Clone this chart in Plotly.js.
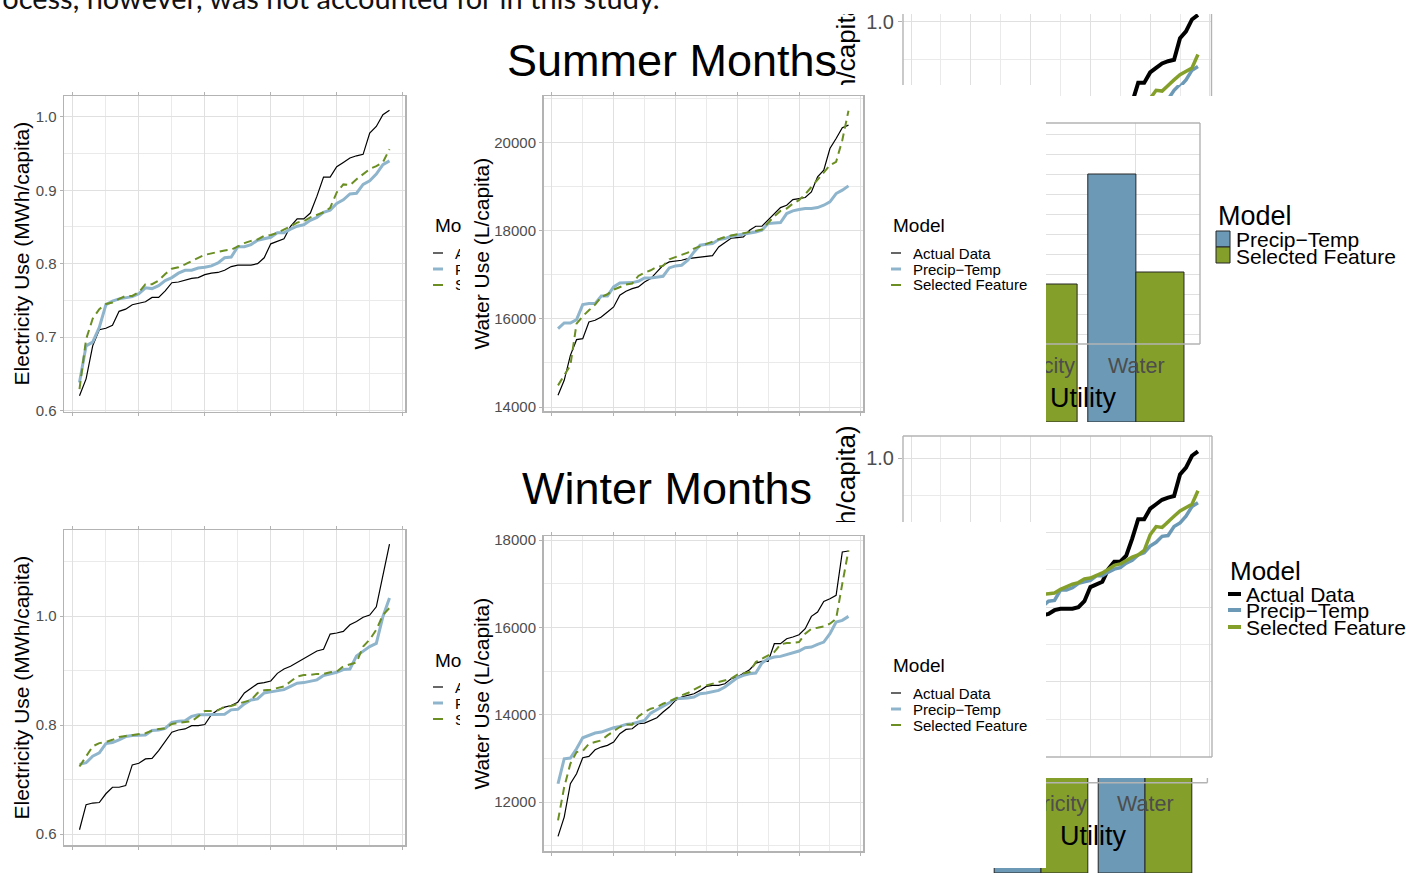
<!DOCTYPE html>
<html><head><meta charset="utf-8">
<script src="https://cdn.plot.ly/plotly-3.0.1.min.js"></script>
<style>html,body{margin:0;padding:0;background:#fff;}#chart{width:1406px;height:873px;}</style>
</head><body><div id="chart"></div>
<script>
const W = 1406, H = 873;
const FONT = 'Liberation Sans, Arial, sans-serif';

// ---------------- data ----------------
const modelNames = ['Actual Data', 'Precip\u2212Temp', 'Selected Feature'];
const legendTitle = 'Model';

const summerElecActual = [0.620,0.643,0.688,0.710,0.712,0.716,0.735,0.738,0.744,0.746,
 0.748,0.754,0.754,0.763,0.774,0.775,0.778,0.780,0.781,0.785,
 0.787,0.788,0.791,0.796,0.798,0.798,0.798,0.800,0.808,0.827,
 0.831,0.834,0.851,0.861,0.861,0.869,0.892,0.918,0.918,0.932,
 0.938,0.944,0.947,0.949,0.978,0.987,1.003,1.009];
const summerElecPrecip = [0.638,0.688,0.693,0.713,0.744,0.749,0.752,0.754,0.755,0.759,
 0.767,0.766,0.770,0.777,0.781,0.787,0.791,0.791,0.794,0.795,
 0.797,0.801,0.808,0.809,0.823,0.823,0.826,0.832,0.834,0.836,
 0.842,0.842,0.847,0.851,0.853,0.859,0.863,0.870,0.873,0.882,
 0.887,0.895,0.896,0.908,0.913,0.922,0.935,0.940];
const summerElecSelected = [0.629,0.697,0.725,0.738,0.745,0.747,0.752,0.756,0.756,0.761,
 0.772,0.772,0.777,0.786,0.793,0.795,0.799,0.804,0.808,0.812,
 0.814,0.817,0.818,0.819,0.824,0.828,0.831,0.833,0.838,0.839,
 0.842,0.846,0.851,0.856,0.858,0.863,0.867,0.870,0.876,0.897,
 0.908,0.907,0.915,0.922,0.929,0.933,0.938,0.956];

const summerWaterActual = [14265,14605,15172,15527,15550,15928,15966,16042,16155,16268,
 16533,16624,16684,16722,16835,16911,17062,17213,17289,17304,
 17327,17365,17380,17402,17418,17433,17629,17720,17826,17841,
 17856,18007,18098,18098,18234,18385,18521,18574,18702,18725,
 18748,18877,19217,19368,19860,20087,20329,20389];
const summerWaterPrecip = [15777,15905,15905,15981,16321,16344,16344,16518,16518,16722,
 16813,16813,16820,16850,16926,16926,16949,16964,17153,17198,
 17213,17327,17515,17667,17690,17705,17796,17818,17871,17894,
 17931,17947,17969,18007,18158,18173,18181,18385,18446,18476,
 18499,18499,18521,18574,18650,18839,18915,19013];
const summerWaterSelected = [14491,14718,14945,15890,16057,16193,16321,16495,16556,16662,
 16722,16775,16798,16971,17047,17100,17175,17198,17349,17402,
 17455,17500,17591,17644,17690,17742,17796,17856,17886,17916,
 17931,17969,17992,18022,18173,18325,18446,18499,18612,18688,
 18824,18990,19141,19330,19481,19557,20049,20715];

const winterElecActual = [0.608,0.654,0.657,0.658,0.674,0.686,0.686,0.689,0.727,0.730,
 0.738,0.739,0.753,0.770,0.787,0.791,0.793,0.799,0.799,0.801,
 0.819,0.828,0.833,0.836,0.842,0.859,0.868,0.876,0.878,0.881,
 0.895,0.903,0.908,0.915,0.921,0.929,0.936,0.939,0.967,0.969,
 0.972,0.984,0.990,0.998,1.002,1.017,1.073,1.132];
const winterElecPrecip = [0.728,0.731,0.743,0.749,0.766,0.768,0.773,0.779,0.781,0.782,
 0.782,0.790,0.791,0.794,0.805,0.807,0.808,0.816,0.819,0.819,
 0.819,0.819,0.820,0.828,0.829,0.839,0.846,0.848,0.859,0.861,
 0.863,0.865,0.871,0.877,0.878,0.880,0.883,0.891,0.894,0.897,
 0.902,0.903,0.927,0.936,0.944,0.950,0.999,1.033];
const winterElecSelected = [0.724,0.743,0.761,0.767,0.769,0.773,0.778,0.780,0.782,0.783,
 0.785,0.790,0.793,0.794,0.802,0.804,0.806,0.807,0.816,0.826,
 0.826,0.827,0.834,0.835,0.839,0.843,0.846,0.859,0.864,0.865,
 0.868,0.871,0.880,0.889,0.892,0.892,0.894,0.894,0.897,0.898,
 0.908,0.911,0.915,0.944,0.957,0.975,1.002,1.015];

const winterWaterActual = [11214,11656,12420,12649,13015,13046,13198,13260,13298,13374,
 13565,13664,13679,13794,13809,13870,13931,14061,14176,14328,
 14405,14443,14481,14557,14649,14672,14672,14710,14825,14863,
 14939,15031,15183,15221,15221,15626,15626,15740,15779,15832,
 15969,16252,16351,16595,16656,16733,17725,17748];
const winterWaterPrecip = [12420,12992,13008,13221,13473,13527,13580,13603,13656,13702,
 13733,13779,13794,13832,13870,14038,14115,14191,14275,14366,
 14366,14382,14405,14481,14496,14534,14557,14634,14748,14847,
 14901,14939,14954,15183,15282,15321,15336,15374,15412,15458,
 15534,15550,15611,15664,15855,16122,16160,16252];
const winterWaterSelected = [11580,12344,12878,13145,13168,13336,13374,13412,13527,13626,
 13718,13779,13771,13962,14061,14137,14176,14252,14305,14366,
 14443,14496,14573,14649,14672,14710,14748,14771,14825,14916,
 14939,14977,15206,15282,15359,15435,15611,15641,15645,15664,
 15855,15969,15992,16023,16084,16198,17000,17763];

const utilities = ['Electricity', 'Water'];
const barPrecipTemp = [3.60, 6.20];
const barSelected = [3.45, 3.75];

const obsIndex = summerElecActual.map((_, i) => i + 1);

// ---------------- helpers ----------------
const X = p => p / W;
const Y = p => 1 - p / H;
const dX = (a, b) => [X(a), X(b)];
const dY = (top, bot) => [Y(bot), Y(top)];

const layout = {
  width: W, height: H, margin: {l: 0, r: 0, t: 0, b: 0},
  paper_bgcolor: '#fff', plot_bgcolor: '#fff',
  showlegend: false, hovermode: false,
  barmode: 'group', bargap: 0.1, bargroupgap: 0,
  font: {family: FONT, color: '#000'},
  shapes: [], annotations: []
};
const traces = [];
let nSub = 0;
function addSub(xc, yc) {
  nSub++;
  const s = nSub === 1 ? '' : String(nSub);
  layout['xaxis' + s] = Object.assign({anchor: 'y' + s, fixedrange: true}, xc);
  layout['yaxis' + s] = Object.assign({anchor: 'x' + s, fixedrange: true}, yc);
  return ['x' + s, 'y' + s];
}
const GRID = '#e0e0e0', MINOR = '#eaeaea', BORDER = '#b3b3b3';

function xLine(dom, range, box) {
  return {domain: dom, range: range, zeroline: false, showticklabels: false,
    tick0: 0, dtick: 10, showgrid: true, gridcolor: GRID, gridwidth: 1,
    minor: {dtick: 5, showgrid: true, gridcolor: MINOR, gridwidth: 1},
    ticks: box ? 'outside' : '', ticklen: 3, tickcolor: BORDER,
    showline: box, linecolor: BORDER, linewidth: 1.5, mirror: box ? 'ticks' : false};
}
function yLine(dom, range, dtick, minor, fmt, fs, labels, box) {
  return {domain: dom, range: range, zeroline: false, tick0: 0, dtick: dtick,
    tickformat: fmt, showticklabels: labels, tickfont: {size: fs, color: '#4d4d4d', family: FONT},
    showgrid: true, gridcolor: GRID, gridwidth: 1,
    minor: {dtick: minor, showgrid: true, gridcolor: MINOR, gridwidth: 1},
    ticks: labels ? 'outside' : '', ticklen: 3, tickcolor: BORDER,
    showline: box, linecolor: BORDER, linewidth: 1.5, mirror: box ? true : false};
}
function lineTraces(ids, series, thick) {
  const [xid, yid] = ids;
  const base = {type: 'scatter', mode: 'lines', x: obsIndex, xaxis: xid, yaxis: yid, hoverinfo: 'skip'};
  traces.push(Object.assign({}, base, {y: series[0], name: modelNames[0], line: {color: '#000', width: thick ? 4 : 1.2}}));
  traces.push(Object.assign({}, base, {y: series[1], name: modelNames[1], line: {color: thick ? '#6c9ab6' : '#8fb5cc', width: thick ? 3.5 : 3}}));
  traces.push(Object.assign({}, base, {y: series[2], name: modelNames[2], line: {color: thick ? '#85a02a' : '#6b8e23', width: thick ? 3.5 : 2, dash: thick ? 'solid' : '8px,5px'}}));
}
function barTraces(ids) {
  const [xid, yid] = ids;
  traces.push({type: 'bar', x: utilities, y: barPrecipTemp, name: modelNames[1], xaxis: xid, yaxis: yid,
    marker: {color: '#6c9ab6', line: {color: '#262626', width: 1}}, hoverinfo: 'skip'});
  traces.push({type: 'bar', x: utilities, y: barSelected, name: modelNames[2], xaxis: xid, yaxis: yid,
    marker: {color: '#85a02a', line: {color: '#262626', width: 1}}, hoverinfo: 'skip'});
}
function xBar(dom, range, grid) {
  return {domain: dom, type: 'category', range: range, showticklabels: false, ticks: '',
    showgrid: grid, gridcolor: GRID, zeroline: false, showline: false};
}
function yBar(dom, range, grid) {
  return {domain: dom, range: range, showticklabels: false, ticks: '', tick0: 0.2, dtick: 0.5,
    showgrid: grid, gridcolor: GRID, zeroline: false, showline: false};
}
function seg(x0, y0, x1, y1, color, w, dash) {
  layout.shapes.push({type: 'line', xref: 'paper', yref: 'paper', x0: X(x0), y0: Y(y0), x1: X(x1), y1: Y(y1),
    line: {color: color || BORDER, width: w || 1.4, dash: dash || 'solid'}, layer: 'above'});
}
function box(x0, y0, x1, y1, fill) {
  layout.shapes.push({type: 'rect', xref: 'paper', yref: 'paper', x0: X(x0), y0: Y(y0), x1: X(x1), y1: Y(y1),
    fillcolor: fill, line: {color: '#262626', width: 1}, layer: 'above'});
}
function txt(text, x, y, size, o) {
  o = o || {};
  layout.annotations.push({xref: 'paper', yref: 'paper', x: X(x), y: Y(y), text: text, showarrow: false,
    xanchor: o.xa || 'left', yanchor: o.ya || 'middle', textangle: o.angle || 0,
    font: {size: size, color: o.color || '#000', family: o.family || FONT}});
}
function cover(x0, y0, x1, y1) {
  layout.annotations.push({xref: 'paper', yref: 'paper', x: X(x0), y: Y(y0), xanchor: 'left', yanchor: 'top',
    text: ' ', width: x1 - x0, height: y1 - y0, bgcolor: '#fff', showarrow: false, borderpad: 0, borderwidth: 0});
}

// ---------------- subplots ----------------
const XR = [-1.35, 50.35];
// A: summer electricity
lineTraces(addSub(xLine(dX(64, 405), XR, true), yLine(dY(96, 411.5), [0.5985, 1.0285], 0.1, 0.05, '.1f', 15, true, true)),
  [summerElecActual, summerElecPrecip, summerElecSelected], false);
// B: summer water
lineTraces(addSub(xLine(dX(543.5, 863), XR, true), yLine(dY(96, 411), [13910, 21050], 2000, 1000, 'd', 15, true, true)),
  [summerWaterActual, summerWaterPrecip, summerWaterSelected], false);
// C: winter electricity
lineTraces(addSub(xLine(dX(64, 405), XR, true), yLine(dY(530, 845), [0.580, 1.158], 0.2, 0.1, '.1f', 15, true, true)),
  [winterElecActual, winterElecPrecip, winterElecSelected], false);
// D: winter water
lineTraces(addSub(xLine(dX(543.5, 863), XR, true), yLine(dY(536, 851), [10880, 18092], 2000, 1000, 'd', 15, true, true)),
  [winterWaterActual, winterWaterPrecip, winterWaterSelected], false);

// E: top-right copy of summer electricity (visible pieces)
const XR2 = [22.575, 50.35];
lineTraces(addSub(xLine(dX(903, 1212), XR, false), Object.assign(yLine(dY(14, 85), [0.91515, 1.01032], 0.1, 0.05, '.1f', 20, true, false), {ticklen: 4})),
  [summerElecActual, summerElecPrecip, summerElecSelected], true);
lineTraces(addSub(xLine(dX(1046, 1212), XR2, false), yLine(dY(85, 96), [0.90040, 0.91515], 0.1, 0.05, '.1f', 20, false, false)),
  [summerElecActual, summerElecPrecip, summerElecSelected], true);

// F: top bar fragment
barTraces(addSub(xBar(dX(1046, 1200), [0.159, 1.6], true), yBar(dY(123, 344), [1.95, 7.475], true)));
barTraces(addSub(xBar(dX(1046, 1200), [0.159, 1.6], false), yBar(dY(344, 422), [0, 1.95], false)));

// G: middle-right copy of summer electricity
lineTraces(addSub(xLine(dX(903, 1212), XR, false), Object.assign(yLine(dY(436, 522), [0.9142, 1.0295], 0.1, 0.05, '.1f', 20, true, false), {ticklen: 4})),
  [summerElecActual, summerElecPrecip, summerElecSelected], true);
lineTraces(addSub(xLine(dX(1046, 1212), XR2, false), yLine(dY(522, 757), [0.5992, 0.9142], 0.1, 0.05, '.1f', 20, false, false)),
  [summerElecActual, summerElecPrecip, summerElecSelected], true);

// H: bottom bar fragment
barTraces(addSub(xBar(dX(1046, 1207.4), [0.048, 1.6], false), yBar(dY(778, 873), [0, 2.375], false)));
barTraces(addSub(xBar(dX(978.6, 1046), [-0.6, 0.048], false), yBar(dY(868, 873), [0, 0.125], false)));

// ---------------- borders ----------------
seg(903, 14, 903, 85); seg(1211.5, 14, 1211.5, 96);
seg(1046, 123, 1200, 123); seg(1200, 123, 1200, 344); seg(1046, 344, 1200, 344);
seg(903, 436, 1212, 436); seg(903, 436, 903, 522); seg(1212, 436, 1212, 757); seg(1046, 757, 1212, 757);
seg(1046, 782.7, 1207.4, 782.7); seg(1207.4, 778, 1207.4, 782.7);

// ---------------- text ----------------
txt('process, however, was not accounted for in this study.', 662, -3, 29, {xa: 'right', family: 'Lato, Open Sans, sans-serif', color: '#111'});
txt('Summer Months', 672, 61, 45, {xa: 'center'});
txt('Winter Months', 667, 488, 45, {xa: 'center'});

// small thin-line legends
function smallLegend(x, yTitle, yItems, full) {
  txt(full ? legendTitle : legendTitle.slice(0, 2), x, yTitle, 19);
  const cols = ['#000', '#8fb5cc', '#6b8e23'], ws = [1.2, 3, 2];
  yItems.forEach((yy, i) => {
    seg(x, yy, x + 10, yy, cols[i], ws[i]);
    txt(full ? modelNames[i] : modelNames[i].slice(0, 1), x + 20, yy, 15);
  });
}
smallLegend(433, 226, [253, 269, 285], false);
smallLegend(891, 226, [253, 269, 285], true);
smallLegend(433, 660, [687, 703, 719], false);
smallLegend(891, 665, [693, 709, 725], true);
cover(460, 244, 469, 294);
cover(460, 678, 469, 728);

// y axis titles
txt('Electricity Use (MWh/capita)', 21, 253.5, 21, {xa: 'center', angle: -90});
txt('Water Use (L/capita)', 481, 253.5, 21, {xa: 'center', angle: -90});
txt('Electricity Use (MWh/capita)', 21, 687.5, 21, {xa: 'center', angle: -90});
txt('Water Use (L/capita)', 481, 693.5, 21, {xa: 'center', angle: -90});

// bar fragment labels
txt(utilities[0], 1029, 366, 21.5, {xa: 'center', color: '#4d4d4d'});
cover(950, 352, 1046, 381);
txt(utilities[1], 1136, 366, 21.5, {xa: 'center', color: '#4d4d4d'});
txt('Utility', 1083, 398, 27, {xa: 'center'});
txt(utilities[0], 1041, 804, 21.5, {xa: 'center', color: '#4d4d4d'});
cover(950, 790, 1046, 818);
txt(utilities[1], 1145, 804, 21.5, {xa: 'center', color: '#4d4d4d'});
txt('Utility', 1093, 836, 27, {xa: 'center'});

// rotated label pieces of the copied electricity chart
txt('h/capita)', 846, 43, 26, {xa: 'center', angle: -90});
cover(828, -20, 870, 14);
cover(828, 85, 870, 95);
txt('h/capita)', 846, 475, 26, {xa: 'center', angle: -90});
cover(828, 522, 870, 535);

// right-side big legends
txt(legendTitle, 1216, 216, 27);
box(1216, 231, 1230, 247, '#6c9ab6');
box(1216, 247, 1230, 263, '#85a02a');
txt(modelNames[1], 1234, 239, 21);
txt(modelNames[2], 1234, 256, 21);

txt(legendTitle, 1228, 571, 26);
['#000', '#6c9ab6', '#85a02a'].forEach((c, i) => {
  const yy = [594, 610, 627][i];
  seg(1228, yy, 1241, yy, c, 4);
  txt(modelNames[i], 1244, yy, 21);
});

Plotly.newPlot('chart', traces, layout, {staticPlot: true});
</script>
</body></html>
